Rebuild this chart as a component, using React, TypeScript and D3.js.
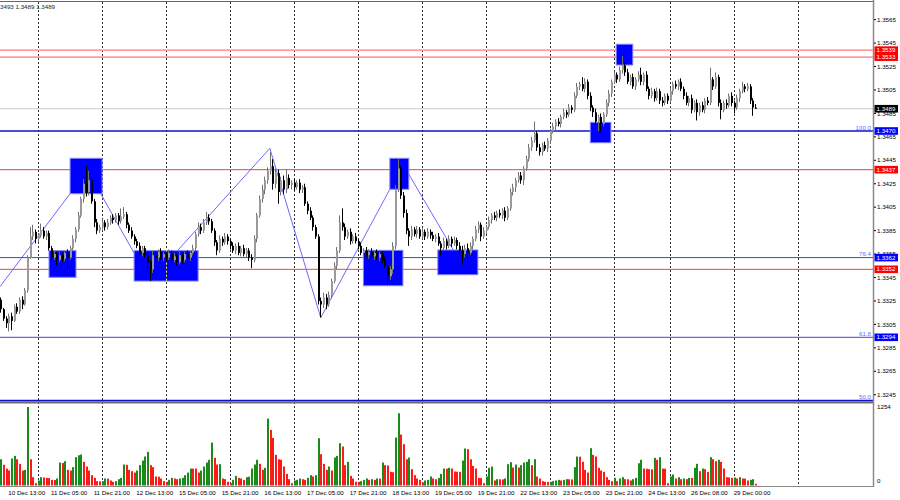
import React from "react";
import * as d3 from "d3";

const PIP = 0.0001;
const FIRST_OPEN = 1.3326;

// closes per trading day (H1 bars)
const closeDec10 = [1.3318,1.3310,1.3306,1.3312,1.3308,1.3320,1.3316,1.3326,1.3322,1.3334,1.3362,1.3380,1.3384,1.3378];
const closeDec11 = [1.3381,1.3385,1.3380,1.3383,1.3370,1.3362,1.3365,1.3360,1.3364,1.3361,1.3366,1.3362,1.3370,1.3378,1.3386,1.3398,1.3412,1.3425,1.3418,1.3428,1.3410,1.3392,1.3385,1.3388];
const closeDec12 = [1.3392,1.3388,1.3392,1.3396,1.3394,1.3398,1.3393,1.3397,1.3399,1.3390,1.3385,1.3380,1.3376,1.3372,1.3366,1.3370,1.3364,1.3358,1.3352,1.3364,1.3362,1.3367,1.3362,1.3365];
const closeDec15 = [1.3362,1.3366,1.3360,1.3363,1.3358,1.3364,1.3360,1.3365,1.3362,1.3366,1.3370,1.3382,1.3388,1.3385,1.3392,1.3396,1.3393,1.3385,1.3375,1.3368,1.3378,1.3375,1.3380,1.3376];
const closeDec16 = [1.3372,1.3368,1.3372,1.3366,1.3370,1.3365,1.3368,1.3362,1.3360,1.3378,1.3398,1.3412,1.3420,1.3428,1.3436,1.3440,1.3425,1.3434,1.3418,1.3428,1.3420,1.3430,1.3424,1.3426];
const closeDec17 = [1.3422,1.3426,1.3420,1.3422,1.3408,1.3402,1.3396,1.3388,1.3380,1.3325,1.3322,1.3328,1.3322,1.3330,1.3342,1.3355,1.3368,1.3392,1.3388,1.3380,1.3384,1.3376,1.3380,1.3376];
const closeDec18 = [1.3372,1.3366,1.3368,1.3364,1.3367,1.3363,1.3366,1.3362,1.3365,1.3360,1.3355,1.3346,1.3352,1.3372,1.3420,1.3438,1.3415,1.3400,1.3385,1.3380,1.3386,1.3382,1.3386,1.3380];
const closeDec19 = [1.3384,1.3380,1.3384,1.3381,1.3378,1.3380,1.3374,1.3370,1.3376,1.3372,1.3378,1.3374,1.3377,1.3372,1.3368,1.3365,1.3370,1.3366,1.3372,1.3378,1.3386,1.3390,1.3380,1.3385];
const closeDec22 = [1.3388,1.3394,1.3398,1.3396,1.3400,1.3398,1.3402,1.3396,1.3404,1.3418,1.3422,1.3428,1.3432,1.3428,1.3438,1.3446,1.3456,1.3462,1.3468,1.3456,1.3452,1.3458,1.3455,1.3462];
const closeDec23 = [1.3470,1.3474,1.3478,1.3476,1.3482,1.3486,1.3484,1.3490,1.3488,1.3500,1.3508,1.3510,1.3506,1.3512,1.3500,1.3490,1.3486,1.3478,1.3482,1.3476,1.3484,1.3494,1.3502,1.3512];
const closeDec24 = [1.3518,1.3514,1.3522,1.3526,1.3520,1.3512,1.3516,1.3508,1.3514,1.3518,1.3512,1.3518,1.3506,1.3500,1.3504,1.3498,1.3504,1.3496,1.3494,1.3500,1.3496];
const closeDec26 = [1.3504,1.3510,1.3508,1.3512,1.3506,1.3500,1.3494,1.3498,1.3488,1.3494,1.3486,1.3492,1.3488,1.3496,1.3494,1.3514,1.3508,1.3516,1.3494,1.3488,1.3494,1.3492,1.3500,1.3494];
const closeDec29 = [1.3490,1.3498,1.3504,1.3508,1.3506,1.3508,1.3496,1.3490,1.3489];

// upper / lower shadow lengths in pips
const upDec10 = [2,1,2,2,3,2,3,2,3,2,2,8,6,2];
const dnDec10 = [3,2,4,7,8,1,2,2,4,1,2,1,3,4];
const upDec11 = [2,6,3,2,2,2,3,2,3,2,2,3,2,3,2,3,2,4,15,8,3,2,3,2];
const dnDec11 = [3,2,2,3,2,3,2,5,2,3,2,10,2,2,3,2,2,3,4,3,2,4,3,2];
const upDec12 = [3,2,3,2,3,2,2,7,6,2,2,3,2,2,3,2,2,3,2,4,3,2,3,2];
const dnDec12 = [2,3,2,2,3,2,3,2,2,3,2,2,3,2,2,3,2,8,10,3,4,3,2,3];
const upDec15 = [2,3,2,3,2,3,2,2,3,2,3,2,4,3,3,5,3,2,2,2,3,2,3,2];
const dnDec15 = [3,2,3,2,3,2,3,2,2,3,2,2,2,3,2,2,3,2,3,4,2,3,2,3];
const upDec16 = [2,3,2,3,2,3,2,2,3,3,2,3,4,3,3,12,6,4,3,3,4,7,3,2];
const dnDec16 = [3,2,3,2,3,2,3,3,7,2,3,2,3,4,3,3,5,4,10,3,4,3,3,4];
const upDec17 = [3,2,3,2,3,2,3,2,2,2,3,4,3,3,2,3,3,6,12,3,2,3,2,3];
const dnDec17 = [3,2,3,3,2,3,2,3,2,3,11,3,4,2,3,2,3,2,3,3,2,3,2,2];
const upDec18 = [2,3,2,3,2,3,2,3,2,2,3,2,3,3,4,8,2,3,3,2,3,2,3,2];
const dnDec18 = [3,2,3,2,3,2,3,2,3,3,2,7,3,4,3,2,3,4,3,8,3,2,3,2];
const upDec19 = [3,2,3,2,3,2,3,2,3,2,3,2,3,2,3,4,3,4,3,2,3,3,2,3];
const dnDec19 = [2,3,2,3,2,3,2,6,2,3,2,3,2,3,3,9,3,9,2,3,2,3,4,2];
const upDec22 = [2,3,2,3,2,3,2,3,2,3,3,2,3,3,2,3,3,3,10,2,3,2,3,2];
const dnDec22 = [3,2,3,2,3,2,3,3,2,2,3,4,2,3,4,2,2,3,2,3,3,3,2,3];
const upDec23 = [2,3,2,3,2,3,2,3,2,3,3,2,6,3,2,3,2,3,2,3,2,3,3,2];
const dnDec23 = [3,2,3,2,3,2,3,2,3,2,2,3,2,3,3,3,4,3,8,7,2,2,3,3];
const upDec24 = [3,2,3,8,2,3,2,3,2,3,6,2,3,2,3,2,3,2,3,2,2];
const dnDec24 = [2,3,2,3,3,2,3,2,3,2,3,3,2,3,2,3,2,3,3,2,3];
const upDec26 = [3,2,3,2,3,2,3,2,3,2,3,2,3,2,3,10,2,4,2,3,2,3,2,3];
const dnDec26 = [2,3,2,3,2,3,2,3,3,2,7,3,2,3,2,2,3,2,3,8,2,3,2,3];
const upDec29 = [2,3,2,4,2,3,2,2,3];
const dnDec29 = [5,2,3,2,3,2,3,7,0];

// tick volumes
const volDec10 = [420,330,270,240,431,473,420,346,239,250,1254,420,133,37];
const volDec11 = [80,133,128,122,118,90,88,112,367,360,388,250,239,293,452,484,495,378,303,239,165,122,69,66];
const volDec12 = [69,112,110,80,59,69,101,122,335,330,250,229,207,239,325,399,463,537,325,293,144,140,112,69];
const volDec15 = [59,90,122,112,101,112,122,165,207,271,271,271,207,239,303,367,410,686,442,335,340,112,101,59];
const volDec16 = [37,90,154,122,112,90,133,140,271,335,410,346,250,282,1069,888,761,489,420,410,303,186,101,37];
const volDec17 = [80,90,112,101,90,122,165,144,165,755,500,346,250,303,239,447,473,676,622,325,378,154,112,59];
const volDec18 = [59,69,90,112,90,101,90,112,110,367,325,320,218,212,766,1154,814,660,420,447,261,165,112,90];
const volDec19 = [48,80,90,144,112,101,122,186,271,268,282,271,223,220,218,399,591,580,420,314,271,122,118,37];
const volDec22 = [144,282,303,80,101,99,97,112,340,372,287,335,287,325,367,378,420,325,420,144,112,69,59,55];
const volDec23 = [59,69,80,90,80,90,101,99,97,293,463,460,378,250,207,596,489,463,282,239,218,133,90,69];
const volDec24 = [122,69,112,133,101,99,80,101,122,356,410,271,268,261,258,442,410,452,271,268,37];
const volDec26 = [144,176,112,133,101,112,101,122,120,282,346,229,271,261,218,452,420,388,410,378,271,133,130,122];
const volDec29 = [128,112,133,112,110,80,90,101,27];

// time axis
const timeLabels = ["10 Dec 13:00","11 Dec 05:00","11 Dec 21:00","12 Dec 13:00","15 Dec 05:00","15 Dec 21:00","16 Dec 13:00","17 Dec 05:00","17 Dec 21:00","18 Dec 13:00","19 Dec 05:00","19 Dec 21:00","22 Dec 13:00","23 Dec 05:00","23 Dec 21:00","24 Dec 13:00","26 Dec 08:00","29 Dec 00:00"];
const timeLabelBars = [3,19,35,51,67,83,99,115,131,147,163,179,195,211,227,243,259,275];
const daySeparatorBars = [14,38,62,86,110,134,158,182,206,230,251,275,299];

// price axis
const priceTicks = [1.3565,1.3545,1.3525,1.3505,1.3485,1.3465,1.3445,1.3425,1.3405,1.3385,1.3365,1.3345,1.3325,1.3305,1.3285,1.3265,1.3245];
const volumeTicks = [1254, 0];

// horizontal levels
const levelPrices = [1.3539, 1.3533, 1.3489, 1.3470, 1.3437, 1.3362, 1.3352, 1.3294, 1.3240];
const levelKinds = ["res", "res", "bid", "fibMain", "red", "fib", "red", "fib", "fibMain"];
const fibTexts = ["100.0", "76.4", "61.8", "50.0"];
const fibPrices = [1.3470, 1.3362, 1.3294, 1.3240];

// rectangles (bar index range, price range)
const rectFrom = [17.9, 25.8, 49.8, 135.8, 145.7, 163.7, 220.9, 230.6];
const rectTo = [28.0, 37.8, 73.8, 150.6, 152.8, 178.7, 228.6, 236.8];
const rectHigh = [1.33679, 1.34467, 1.33679, 1.33682, 1.34467, 1.33685, 1.34774, 1.35440];
const rectLow = [1.33452, 1.34165, 1.33420, 1.33380, 1.34203, 1.33474, 1.34600, 1.35263];

// trend lines (bar, price) -> (bar, price)
const trendBar1 = [-0.5, 37.2, 66.3, 100.7, 119.8, 152.6];
const trendPrice1 = [1.33372, 1.34168, 1.33685, 1.34552, 1.33107, 1.34339];
const trendBar2 = [25.8, 49.8, 100.7, 119.8, 145.7, 169.5];
const trendPrice2 = [1.34165, 1.33659, 1.34552, 1.33107, 1.34203, 1.33685];

const closes = [...closeDec10, ...closeDec11, ...closeDec12, ...closeDec15, ...closeDec16, ...closeDec17, ...closeDec18, ...closeDec19, ...closeDec22, ...closeDec23, ...closeDec24, ...closeDec26, ...closeDec29];
const ups = [...upDec10, ...upDec11, ...upDec12, ...upDec15, ...upDec16, ...upDec17, ...upDec18, ...upDec19, ...upDec22, ...upDec23, ...upDec24, ...upDec26, ...upDec29];
const dns = [...dnDec10, ...dnDec11, ...dnDec12, ...dnDec15, ...dnDec16, ...dnDec17, ...dnDec18, ...dnDec19, ...dnDec22, ...dnDec23, ...dnDec24, ...dnDec26, ...dnDec29];
const volumes = [...volDec10, ...volDec11, ...volDec12, ...volDec15, ...volDec16, ...volDec17, ...volDec18, ...volDec19, ...volDec22, ...volDec23, ...volDec24, ...volDec26, ...volDec29];

const FONT = "'Liberation Sans', Arial, sans-serif";

export default function App() {
  const x = d3.scaleLinear().domain([0, 1]).range([1.3, 1.3 + 8 / 3]);
  const y = d3.scaleLinear().domain([1.347, 1.3294]).range([131, 337.3]);
  const yv = d3.scaleLinear().domain([0, 1254]).range([485.5, 407]);
  const plotRight = 873;

  const candles = closes.map((c, i) => {
    const o = i === 0 ? FIRST_OPEN : closes[i - 1];
    const top = Math.max(o, c);
    const bot = Math.min(o, c);
    return { i, o, c, h: top + ups[i] * PIP, l: bot - dns[i] * PIP, bull: c >= o, top, bot };
  });

  const levelStyle: Record<string, { stroke: string; w: number; box: string }> = {
    res: { stroke: "#ff9c9c", w: 1.6, box: "#ff0000" },
    bid: { stroke: "#c8c8c8", w: 1, box: "#000000" },
    fibMain: { stroke: "#1010cc", w: 1.6, box: "#0000ff" },
    red: { stroke: "#f04040", w: 1, box: "#ff0000" },
    fib: { stroke: "#3c3cff", w: 1, box: "#0000ff" },
  };

  const lineGen = d3.line<[number, number]>().x((d) => x(d[0])).y((d) => y(d[1]));

  return (
    <svg width={900} height={500} style={{ position: "absolute", left: 0, top: 0, background: "#fff" }} fontFamily={FONT}>
      <rect x={0} y={0} width={900} height={500} fill="#fff" />
      <defs>
        <clipPath id="plot">
          <rect x={0} y={0} width={plotRight} height={402} />
        </clipPath>
      </defs>

      {/* day separators */}
      {daySeparatorBars.map((b) => {
        const gx = Math.floor(x(b)) + 0.5;
        return <line key={"g" + b} x1={gx} x2={gx} y1={2} y2={486} stroke="#333" strokeWidth={1} strokeDasharray="2 2" />;
      })}

      {/* horizontal levels */}
      <g clipPath="url(#plot)">
        {levelPrices.map((p, k) => {
          const st = levelStyle[levelKinds[k]];
          return <line key={"l" + k} x1={0} x2={plotRight} y1={y(p)} y2={y(p)} stroke={st.stroke} strokeWidth={st.w} />;
        })}
        {/* trend lines */}
        {trendBar1.map((b, k) => (
          <path key={"t" + k} d={lineGen([[b, trendPrice1[k]], [trendBar2[k], trendPrice2[k]]]) || ""} stroke="#6a6aff" strokeWidth={1} fill="none" />
        ))}
        {/* rectangles */}
        {rectFrom.map((b, k) => (
          <rect key={"r" + k} x={x(b)} y={y(rectHigh[k])} width={x(rectTo[k]) - x(b)} height={y(rectLow[k]) - y(rectHigh[k])} fill="#0000ff" stroke="#8080ff" strokeWidth={1} />
        ))}
        {/* grid shown through rectangles */}
        {daySeparatorBars.map((b) =>
          rectFrom.map((rb, k) => {
            if (b <= rb || b >= rectTo[k]) return null;
            const gx = Math.floor(x(b)) + 0.5;
            return <line key={"gy" + b + "_" + k} x1={gx} x2={gx} y1={y(rectHigh[k])} y2={y(rectLow[k])} stroke="#ffff00" strokeWidth={1} strokeDasharray="2 2" />;
          })
        )}
        {/* candles */}
        {candles.map((d) => {
          const cx = Math.round(x(d.i));
          const col = d.bull ? "#9a9a9a" : "#000";
          const wick = d.bull ? "#707070" : "#000";
          const yt = y(d.top);
          const yb = y(d.bot);
          return (
            <g key={"c" + d.i}>
              <line x1={cx - 0.5} x2={cx - 0.5} y1={y(d.h)} y2={y(d.l)} stroke={wick} strokeWidth={1} />
              <rect x={cx - 1} y={yt} width={2} height={Math.max(1, yb - yt)} fill={col} />
            </g>
          );
        })}
      </g>

      {/* fib labels */}
      {fibTexts.map((t, k) => (
        <text key={"f" + k} x={871} y={y(fibPrices[k]) - 1.5} fontSize={6.2} fill="#6b6bff" textAnchor="end">{t}</text>
      ))}

      {/* panel frames */}
      <line x1={0} x2={plotRight} y1={1.5} y2={1.5} stroke="#666" strokeWidth={1} />
      <rect x={0} y={401.5} width={plotRight} height={2} fill="#6e6e6e" />
      <line x1={0} x2={plotRight + 1} y1={486.5} y2={486.5} stroke="#888" strokeWidth={1} />
      <line x1={plotRight + 0.5} x2={plotRight + 0.5} y1={0} y2={487} stroke="#8a8a8a" strokeWidth={1.5} />

      {/* volumes */}
      {volumes.map((v, i) => {
        const up = i === 0 || v > volumes[i - 1];
        const cx = Math.round(x(i));
        return <rect key={"v" + i} x={cx - 1} y={yv(v)} width={2} height={yv(0) - yv(v)} fill={up ? "#1a8a1a" : "#ff1a1a"} />;
      })}

      {/* price axis */}
      {priceTicks.map((p) => (
        <g key={"pt" + p}>
          <line x1={874} x2={876} y1={y(p)} y2={y(p)} stroke="#000" strokeWidth={1} />
          <text x={877} y={y(p) + 2.1} fontSize={6.2} fill="#000">{p.toFixed(4)}</text>
        </g>
      ))}
      {volumeTicks.map((v) => (
        <text key={"vt" + v} x={877} y={v === 0 ? 483 : 409} fontSize={6.2} fill="#000">{String(v)}</text>
      ))}

      {/* level price boxes */}
      {levelPrices.map((p, k) => {
        if (levelKinds[k] === "fibMain" && k === levelPrices.length - 1) return null;
        const st = levelStyle[levelKinds[k]];
        return (
          <g key={"lb" + k}>
            <rect x={874.5} y={y(p) - 3.8} width={23.5} height={7.6} fill={st.box} />
            <text x={876.5} y={y(p) + 2.1} fontSize={6.2} fill="#fff">{p.toFixed(4)}</text>
          </g>
        );
      })}

      {/* time axis */}
      {timeLabelBars.map((b, k) => (
        <text key={"tl" + k} x={x(b) - 1} y={495} fontSize={6.2} fill="#000">{timeLabels[k]}</text>
      ))}

      {/* header */}
      <text x={0} y={9} fontSize={6.2} fill="#222">3493 1.3489 1.3489</text>
    </svg>
  );
}
